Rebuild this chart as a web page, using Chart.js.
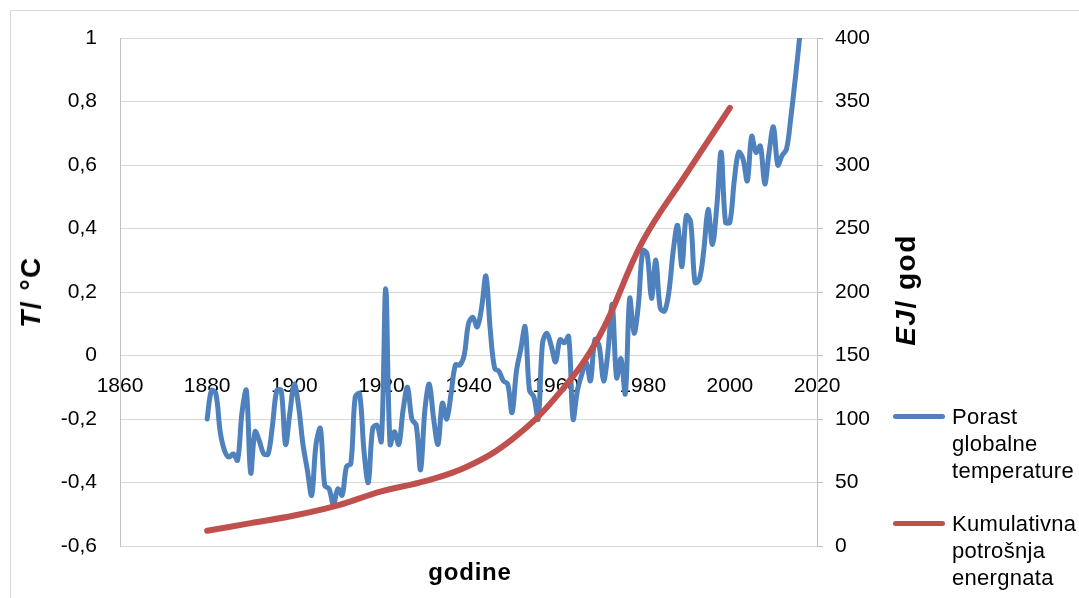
<!DOCTYPE html>
<html>
<head>
<meta charset="utf-8">
<script src="https://cdn.jsdelivr.net/npm/chart.js@4.4.1/dist/chart.umd.min.js"></script>
<style>
  html, body { margin: 0; padding: 0; background: #fff; overflow: hidden; }
  #wrap { position: relative; width: 1079px; height: 598px; font-family: "Liberation Sans", Arial, sans-serif; color: #000; }
  #frame { position: absolute; left: 10px; top: 10px; width: 1200px; height: 700px; border: 1px solid #d9d9d9; box-sizing: border-box; }
  #c { position: absolute; left: 0; top: 0; }
  .title { position: absolute; font-weight: bold; white-space: nowrap; }
  .rot { transform: translate(-50%, -50%) rotate(-90deg); }
  .legend-line { position: absolute; height: 5px; border-radius: 3px; }
  .legend-text { position: absolute; font-size: 22px; line-height: 27px; white-space: nowrap; letter-spacing: 0.3px; }
</style>
</head>
<body>
<div id="wrap">
  <div id="frame"></div>
  <canvas id="c" width="1079" height="598"></canvas>
  <div class="title rot" style="left:31px; top:292px; font-size:28px; letter-spacing:1.5px;"><i>T</i>/ °C</div>
  <div class="title rot" style="left:906px; top:290px; font-size:28px; letter-spacing:1.5px;"><i>EJ</i>/ god</div>
  <div class="title" style="left:470px; top:572px; transform:translate(-50%,-50%); font-size:24px; letter-spacing:0.8px;">godine</div>
  <div id="legend"></div>
</div>
<script>
// ---- data ----
const tempYears = [1880,1881,1882,1883,1884,1885,1886,1887,1888,1889,
  1890,1891,1892,1893,1894,1895,1896,1897,1898,1899,
  1900,1901,1902,1903,1904,1905,1906,1907,1908,1909,
  1910,1911,1912,1913,1914,1915,1916,1917,1918,1919,
  1920,1921,1922,1923,1924,1925,1926,1927,1928,1929,
  1930,1931,1932,1933,1934,1935,1936,1937,1938,1939,
  1940,1941,1942,1943,1944,1945,1946,1947,1948,1949,
  1950,1951,1952,1953,1954,1955,1956,1957,1958,1959,
  1960,1961,1962,1963,1964,1965,1966,1967,1968,1969,
  1970,1971,1972,1973,1974,1975,1976,1977,1978,1979,
  1980,1981,1982,1983,1984,1985,1986,1987,1988,1989,
  1990,1991,1992,1993,1994,1995,1996,1997,1998,1999,
  2000,2001,2002,2003,2004,2005,2006,2007,2008,2009,
  2010,2011,2012,2013,2014,2015,2016];
const tempAnomaly = [-0.20,-0.11,-0.12,-0.24,-0.30,-0.32,-0.31,-0.33,-0.18,-0.11,
  -0.37,-0.24,-0.27,-0.31,-0.31,-0.22,-0.11,-0.11,-0.28,-0.18,
  -0.09,-0.16,-0.28,-0.36,-0.44,-0.28,-0.23,-0.41,-0.42,-0.47,
  -0.42,-0.44,-0.35,-0.34,-0.13,-0.12,-0.30,-0.40,-0.23,-0.22,
  -0.27,0.21,-0.28,-0.24,-0.28,-0.17,-0.10,-0.20,-0.22,-0.36,
  -0.17,-0.09,-0.20,-0.28,-0.15,-0.20,-0.12,-0.03,-0.03,0.00,
  0.10,0.12,0.09,0.15,0.25,0.08,-0.04,-0.05,-0.08,-0.09,
  -0.18,-0.05,0.02,0.09,-0.11,-0.13,-0.20,0.04,0.07,0.03,
  -0.02,0.05,0.04,0.06,-0.20,-0.11,-0.06,-0.02,-0.08,0.05,
  0.03,-0.08,0.01,0.16,-0.07,-0.01,-0.12,0.18,0.07,0.16,
  0.33,0.32,0.18,0.30,0.15,0.14,0.20,0.33,0.41,0.28,
  0.44,0.42,0.23,0.24,0.33,0.46,0.35,0.47,0.64,0.42,
  0.42,0.55,0.64,0.62,0.55,0.69,0.64,0.66,0.54,0.64,
  0.72,0.60,0.63,0.65,0.75,0.87,1.00];
const energyYears = [1880,1890,1900,1910,1920,1930,1940,1950,1960,1970,1980,1990,2000];
const energyCumulative = [12,18,24,32,43,51,63,84,117,165,240,293,345];

const xTicks = [1860,1880,1900,1920,1940,1960,1980,2000,2020];
const tempTicks = [-0.6,-0.4,-0.2,0,0.2,0.4,0.6,0.8,1];
const energyTicks = [0,50,100,150,200,250,300,350,400];

const seriesNames = [["Porast","globalne","temperature"],["Kumulativna","potrošnja","energnata"]];
const seriesColors = ["#4f81bd","#c0504d"];

// ---- chart ----
const tempPoints = tempYears.map((y, i) => ({x: y, y: tempAnomaly[i]}));
const energyPoints = energyYears.map((y, i) => ({x: y, y: energyCumulative[i]}));
const FONT = "'Liberation Sans', Arial, sans-serif";

new Chart(document.getElementById('c'), {
  type: 'line',
  data: {
    datasets: [
      { label: seriesNames[0].join(' '), data: tempPoints, yAxisID: 'y',
        borderColor: seriesColors[0], borderWidth: 5, pointRadius: 0, tension: 0.35,
        borderCapStyle: 'round', borderJoinStyle: 'round', fill: false, order: 2 },
      { label: seriesNames[1].join(' '), data: energyPoints, yAxisID: 'y1',
        borderColor: seriesColors[1], borderWidth: 6, pointRadius: 0, tension: 0.4,
        borderCapStyle: 'round', borderJoinStyle: 'round', fill: false, order: 1 }
    ]
  },
  options: {
    responsive: false,
    animation: false,
    events: [],
    layout: { padding: { left: 0, top: 38, right: 202, bottom: 52 } },
    plugins: { legend: { display: false }, tooltip: { enabled: false } },
    scales: {
      x: {
        type: 'linear', min: xTicks[0], max: xTicks[xTicks.length - 1],
        position: { y: 0 },
        grid: { display: false },
        border: { display: false },
        afterBuildTicks: (s) => { s.ticks = xTicks.map(v => ({value: v})); },
        ticks: { color: '#000', font: { family: FONT, size: 21 }, padding: 10, maxRotation: 0,
                 autoSkip: false, callback: (v) => String(v) }
      },
      y: {
        type: 'linear', position: 'left', min: tempTicks[0], max: tempTicks[tempTicks.length - 1],
        afterFit: (s) => { s.width = 120; },
        afterBuildTicks: (s) => { s.ticks = tempTicks.map(v => ({value: v})); },
        grid: { color: '#d9d9d9', lineWidth: 1, drawTicks: false },
        border: { display: true, color: '#bfbfbf', width: 1 },
        ticks: { color: '#000', font: { family: FONT, size: 21 }, padding: 23,
                 callback: (v) => String(Math.round(v * 10) / 10).replace('.', ',') }
      },
      y1: {
        type: 'linear', position: 'right', min: energyTicks[0], max: energyTicks[energyTicks.length - 1],
        afterFit: (s) => { s.width = 60; },
        afterBuildTicks: (s) => { s.ticks = energyTicks.map(v => ({value: v})); },
        grid: { drawOnChartArea: false, color: '#bfbfbf', tickLength: 6 },
        border: { display: true, color: '#bfbfbf', width: 1 },
        ticks: { color: '#000', font: { family: FONT, size: 21 }, padding: 12,
                 callback: (v) => String(v) }
      }
    }
  }
});

// ---- legend (HTML) ----
const legend = document.getElementById('legend');
const legendY = [416, 523];
seriesNames.forEach((lines, i) => {
  const ln = document.createElement('div');
  ln.className = 'legend-line';
  ln.style.cssText = `left:893px; top:${legendY[i] - 2.5}px; width:52px; background:${seriesColors[i]};`;
  legend.appendChild(ln);
  const tx = document.createElement('div');
  tx.className = 'legend-text';
  tx.style.cssText = `left:952px; top:${legendY[i] - 13.5}px;`;
  tx.innerHTML = lines.join('<br>');
  legend.appendChild(tx);
});
</script>
</body>
</html>
